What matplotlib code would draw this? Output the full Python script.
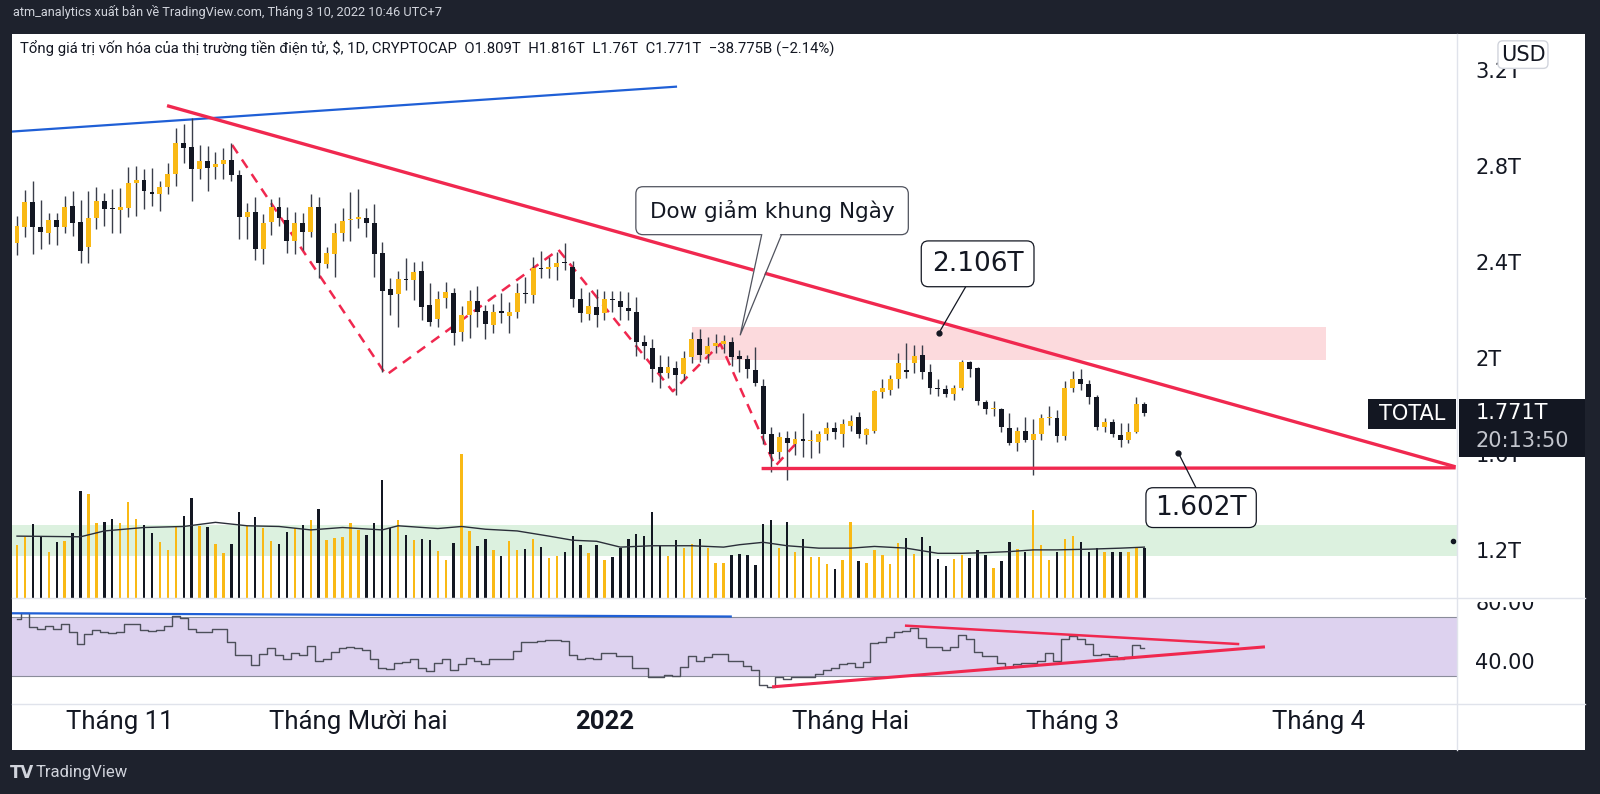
import numpy as np
import pandas as pd
import matplotlib
matplotlib.use('Agg')
import matplotlib.pyplot as plt
from matplotlib.patches import Rectangle, FancyBboxPatch, Polygon
from matplotlib.lines import Line2D

# nen ngay TOTAL (CRYPTOCAP), x = so ngay tinh tu 01/11/2021
dates = pd.date_range('2021-10-19', '2022-03-10', freq='D')
days = np.array((dates - pd.Timestamp('2021-11-01')).days)

# gia tri von hoa, don vi T (nghin ty USD)
opens = [2.479, 2.549, 2.653, 2.546, 2.524, 2.576, 2.545, 2.635, 2.566, 2.462,
         2.583, 2.654, 2.624, 2.618, 2.628, 2.732, 2.742, 2.694, 2.685, 2.714,
         2.770, 2.897, 2.881, 2.789, 2.822, 2.799, 2.811, 2.827, 2.764, 2.589,
         2.611, 2.454, 2.568, 2.632, 2.576, 2.490, 2.565, 2.528, 2.632, 2.394,
         2.434, 2.523, 2.576, 2.581, 2.586, 2.565, 2.437, 2.287, 2.266, 2.330,
         2.326, 2.365, 2.222, 2.162, 2.249, 2.271, 2.111, 2.180, 2.240, 2.197,
         2.139, 2.197, 2.178, 2.194, 2.269, 2.263, 2.377, 2.370, 2.382, 2.397,
         2.382, 2.245, 2.184, 2.212, 2.187, 2.243, 2.240, 2.210, 2.191, 2.066,
         2.041, 1.962, 1.940, 1.958, 1.934, 2.004, 2.078, 2.017, 2.051, 2.059,
         2.066, 2.009, 1.995, 1.951, 1.885, 1.682, 1.607, 1.666, 1.642, 1.663,
         1.654, 1.649, 1.684, 1.707, 1.686, 1.717, 1.753, 1.680, 1.698, 1.860,
         1.867, 1.912, 1.950, 1.979, 2.013, 1.944, 1.876, 1.872, 1.851, 1.874,
         1.983, 1.958, 1.819, 1.787, 1.788, 1.710, 1.648, 1.696, 1.661, 1.682,
         1.749, 1.752, 1.676, 1.876, 1.912, 1.891, 1.840, 1.715, 1.735, 1.680,
         1.659, 1.694, 1.809]
highs = [2.593, 2.701, 2.740, 2.660, 2.604, 2.604, 2.678, 2.698, 2.660, 2.698,
         2.712, 2.690, 2.704, 2.708, 2.796, 2.803, 2.788, 2.793, 2.740, 2.815,
         2.959, 2.977, 3.000, 2.889, 2.883, 2.858, 2.877, 2.899, 2.785, 2.646,
         2.672, 2.600, 2.662, 2.672, 2.632, 2.610, 2.604, 2.683, 2.671, 2.465,
         2.562, 2.625, 2.693, 2.704, 2.628, 2.643, 2.486, 2.336, 2.365, 2.416,
         2.403, 2.405, 2.312, 2.281, 2.319, 2.291, 2.218, 2.284, 2.301, 2.222,
         2.226, 2.270, 2.234, 2.312, 2.337, 2.423, 2.447, 2.420, 2.444, 2.482,
         2.405, 2.291, 2.277, 2.287, 2.280, 2.281, 2.281, 2.277, 2.254, 2.097,
         2.078, 2.013, 2.009, 1.990, 2.030, 2.111, 2.120, 2.087, 2.099, 2.097,
         2.090, 2.034, 2.013, 2.048, 1.912, 1.714, 1.694, 1.698, 1.698, 1.773,
         1.701, 1.698, 1.735, 1.735, 1.745, 1.763, 1.774, 1.711, 1.867, 1.912,
         1.930, 2.020, 2.062, 2.055, 2.055, 1.976, 1.912, 1.888, 1.888, 1.992,
         1.990, 1.962, 1.826, 1.822, 1.791, 1.773, 1.715, 1.756, 1.745, 1.767,
         1.800, 1.784, 1.907, 1.948, 1.953, 1.909, 1.846, 1.749, 1.746, 1.728,
         1.728, 1.839, 1.816]
lows = [2.430, 2.507, 2.434, 2.454, 2.476, 2.472, 2.521, 2.509, 2.395, 2.398,
        2.540, 2.551, 2.524, 2.524, 2.587, 2.593, 2.622, 2.635, 2.615, 2.683,
        2.718, 2.815, 2.657, 2.749, 2.698, 2.746, 2.746, 2.737, 2.499, 2.499,
        2.409, 2.391, 2.514, 2.551, 2.437, 2.434, 2.451, 2.504, 2.333, 2.375,
        2.340, 2.489, 2.490, 2.542, 2.507, 2.340, 1.944, 2.180, 2.129, 2.284,
        2.243, 2.159, 2.134, 2.129, 2.208, 2.055, 2.073, 2.083, 2.130, 2.079,
        2.104, 2.145, 2.104, 2.166, 2.231, 2.231, 2.333, 2.333, 2.326, 2.368,
        2.215, 2.152, 2.159, 2.131, 2.159, 2.194, 2.159, 2.159, 2.009, 1.995,
        1.902, 1.874, 1.916, 1.846, 1.909, 1.978, 1.985, 1.981, 2.020, 2.020,
        1.967, 1.944, 1.916, 1.884, 1.642, 1.527, 1.578, 1.492, 1.597, 1.586,
        1.583, 1.603, 1.658, 1.665, 1.631, 1.698, 1.666, 1.642, 1.689, 1.833,
        1.846, 1.874, 1.916, 1.937, 1.912, 1.850, 1.842, 1.837, 1.826, 1.867,
        1.923, 1.805, 1.766, 1.760, 1.694, 1.638, 1.613, 1.651, 1.513, 1.658,
        1.721, 1.652, 1.658, 1.860, 1.867, 1.809, 1.701, 1.694, 1.673, 1.628,
        1.648, 1.687, 1.760]
closes = [2.551, 2.653, 2.546, 2.526, 2.576, 2.549, 2.632, 2.565, 2.448, 2.585,
          2.657, 2.623, 2.621, 2.632, 2.732, 2.742, 2.698, 2.685, 2.715, 2.770,
          2.897, 2.878, 2.789, 2.822, 2.794, 2.810, 2.827, 2.765, 2.590, 2.611,
          2.454, 2.564, 2.632, 2.583, 2.490, 2.564, 2.528, 2.629, 2.398, 2.437,
          2.523, 2.573, 2.582, 2.590, 2.562, 2.434, 2.281, 2.263, 2.329, 2.327,
          2.361, 2.215, 2.152, 2.248, 2.274, 2.107, 2.180, 2.240, 2.194, 2.143,
          2.191, 2.187, 2.191, 2.270, 2.266, 2.377, 2.370, 2.379, 2.396, 2.395,
          2.247, 2.187, 2.218, 2.180, 2.245, 2.241, 2.212, 2.198, 2.069, 2.052,
          1.955, 1.940, 1.962, 1.930, 2.002, 2.078, 2.013, 2.051, 2.062, 2.071,
          2.003, 1.995, 1.953, 1.895, 1.684, 1.600, 1.672, 1.648, 1.662, 1.653,
          1.656, 1.682, 1.707, 1.694, 1.725, 1.738, 1.684, 1.703, 1.863, 1.874,
          1.912, 1.981, 1.944, 2.009, 1.944, 1.874, 1.872, 1.851, 1.874, 1.985,
          1.956, 1.822, 1.787, 1.789, 1.712, 1.645, 1.698, 1.661, 1.682, 1.749,
          1.750, 1.676, 1.876, 1.912, 1.892, 1.840, 1.715, 1.735, 1.682, 1.661,
          1.694, 1.807, 1.771]

# khoi luong (B)
volume = [77.5, 89, 107.5, 90, 67.5, 81.5, 82.5, 95, 156, 151.5,
          109, 110, 115, 109, 140, 114.5, 106.5, 94, 81.5, 70,
          105, 119, 145, 104, 103.5, 79, 66, 79, 125, 104,
          117.5, 102.5, 82.5, 78.5, 96.5, 102.5, 106.5, 113.5, 129, 85,
          87.5, 88.5, 108.5, 99, 91, 108.5, 171, 102, 114, 91.5,
          85, 86, 85, 69, 56, 80, 210, 97.5, 75, 86,
          70, 61.5, 82.5, 70, 71, 86, 74, 57.5, 61.5, 67,
          90, 77, 66, 77, 55, 59, 72.5, 86, 93.5, 90,
          125, 76, 61, 85, 72.5, 78.5, 86.5, 72.5, 51, 51,
          62.5, 64, 62.5, 48.5, 107.5, 114, 72.5, 111, 66.5, 86,
          60, 60, 49, 42.5, 56, 111, 54, 51, 70, 62.5,
          49, 80, 87, 64, 88.5, 76, 56.5, 46, 56.5, 62.5,
          57.5, 70, 62.5, 44, 54, 81.5, 71, 67.5, 128.5, 77.5,
          55, 67.5, 86.5, 90, 81, 67.5, 72.5, 67.5, 67.5, 67.5,
          67.5, 72.5, 72.5]
vol_ma_days = [-13, -5, -2, 3, 8, 12, 16, 20, 24, 28, 33, 35, 40, 43, 46, 50, 54, 57, 60,
               63, 67, 72, 76, 78, 81, 84, 88, 92, 95, 99, 103, 106, 109, 112, 115, 118,
               122, 126, 129]
vol_ma = [90, 89, 97.5, 102.5, 104, 110, 105, 104, 99, 102.5, 99, 105, 101, 104, 100, 97.5,
          90, 84, 82.5, 74, 76, 76, 74, 77.5, 81, 76, 72.5, 72.5, 75, 72.5, 65, 65, 66,
          67.5, 70, 70, 71, 72.5, 74]

rsi = [68.3, 72.6, 63.2, 62.1, 64.0, 62.1, 65.3, 59.8, 51.9, 58.3,
       61.5, 59.8, 59.4, 59.8, 65.1, 65.5, 61.1, 60.4, 61.5, 64.0,
       70.4, 69.6, 62.1, 60.0, 60.0, 62.1, 62.1, 53.0, 44.5, 44.5,
       37.7, 44.9, 48.7, 44.5, 41.3, 45.5, 44.5, 50.4, 40.2, 41.3,
       46.6, 49.1, 49.8, 49.1, 47.7, 41.3, 35.5, 34.9, 39.1, 39.8,
       41.3, 35.5, 33.4, 39.1, 41.3, 34.3, 38.1, 42.3, 40.2, 38.5,
       41.3, 41.3, 41.9, 47.0, 53.4, 53.0, 54.0, 54.5, 54.7, 54.0,
       44.5, 41.3, 42.3, 41.3,
       45.5, 45.5, 43.4, 43.4, 35.5, 35.5, 29.6, 29.1, 30.6, 30.0,
       36.0, 43.4, 40.2, 42.8, 44.9, 44.9, 40.2, 40.2, 37.0, 33.8,
       24.2, 22.8, 29.1, 27.9, 29.1, 29.1, 29.1, 31.7, 34.2, 35.5,
       38.5, 39.1, 36.0, 39.8, 52.5, 53.0, 56.2, 59.8, 60.4, 62.6,
       55.5, 49.8, 49.8, 47.7, 49.8, 57.7, 55.1, 46.2, 43.4, 43.4,
       39.1, 36.0, 38.5, 39.1, 39.1, 40.2, 45.5, 40.2, 55.1, 56.8,
       55.1, 51.9, 44.5, 44.9, 43.4, 41.3, 42.8, 51.3, 49.1]

month_ticks = [0, 30, 61, 92, 120, 151]
month_labels = ['Tháng 11', 'Tháng Mười hai', '2022', 'Tháng Hai', 'Tháng 3', 'Tháng 4']
price_ticks = [1.2, 1.6, 2.0, 2.4, 2.8, 3.2]
price_labels = ['1.2T', '1.6T', '2T', '2.4T', '2.8T', '3.2T']
rsi_ticks = [40, 80]
rsi_labels = ['40.00', '80.00']

# cac duong ve tay
blue_x, blue_y = [-13.6, 70.0], [2.945, 3.132]
trend_x, trend_y = [6.1, 168.0], [3.051, 1.549]
support_x, support_y = [81.0, 168.0], [1.540, 1.543]
zz_x = [14.1, 33.5, 55.2, 69.6, 75.6, 82.5, 85.0]
zz_y = [2.889, 1.93, 2.452, 1.862, 2.06, 1.55, 1.64]
rsi_blue_x, rsi_blue_y = [-13.6, 76.9], [72.5, 70.3]
rsi_top_x, rsi_top_y = [99.0, 140.8], [64.1, 51.7]
rsi_bot_x, rsi_bot_y = [82.3, 144.0], [22.8, 49.7]

DARK = '#1e222d'
YEL = '#f9b915'
BLK = '#131722'
RED = '#f0284f'
BLUE = '#1f5fd6'
narrow = ['Roboto', 'DejaVu Sans']
plt.rcParams['font.family'] = ['DejaVu Sans']

W, H = 1568.0, 778.0
def fx(x):
    return x / W
def fy(y):
    return 1 - y / H

fig = plt.figure(figsize=(16, 7.94), dpi=100, facecolor=DARK)
fig.patches.append(Rectangle((fx(12), fy(735)), fx(1553) - fx(12), fy(33) - fy(735),
                             transform=fig.transFigure, fc='white', ec='none', zorder=-1))

ax = fig.add_axes([fx(12), fy(586), fx(1428) - fx(12), fy(33) - fy(586)])
axr = fig.add_axes([fx(12), fy(690), fx(1428) - fx(12), fy(586) - fy(690)], sharex=ax)
for a in (ax, axr):
    a.set_facecolor('none')
    for s in a.spines.values():
        s.set_visible(False)
ax.set_xlim(-13.6, 168.4)
ax.set_ylim(1.0, 3.353)
axr.set_ylim(11.0, 82.8)

# vung ve
ax.axhspan(1.174, 1.306, color='#dcf1df', lw=0, zorder=0)
ax.add_patch(Rectangle((72.0, 1.991), 151.9 - 72.0, 2.128 - 1.991, fc='#fcdadd', ec='none', zorder=0))
ax.plot(blue_x, blue_y, color=BLUE, lw=1.6, zorder=2)
ax.plot(trend_x, trend_y, color=RED, lw=2.4, zorder=5, clip_on=False)
ax.plot(support_x, support_y, color=RED, lw=2.4, zorder=5, clip_on=False)
ax.plot(zz_x, zz_y, color=RED, lw=1.8, ls=(0, (4, 3)), zorder=2)

# nen
o, c = np.array(opens), np.array(closes)
up = c >= o
cols = np.where(up, YEL, BLK)
ax.vlines(days, lows, highs, color='#3a3e4a', lw=1.0, zorder=3)
ax.bar(days, np.maximum(np.abs(c - o), 0.004), bottom=np.minimum(o, c), width=0.62,
       color=cols, zorder=4)

# callout "Dow giam khung Ngay"
ax.add_patch(FancyBboxPatch((64.95, 2.515), 99.27 - 64.95, 0.2, boxstyle='round,pad=0,rounding_size=0.9',
                            mutation_aspect=0.0331, fc='white', ec='#50535e', lw=0.9, zorder=7))
ax.add_patch(Polygon([(80.8, 2.53), (78.1, 2.097), (83.3, 2.53)], closed=True, fc='white', ec='none', zorder=8))
ax.plot([80.8, 78.1, 83.3], [2.515, 2.097, 2.515], color='#50535e', lw=0.9, zorder=9)
ax.text(82.1, 2.615, 'Dow giảm khung Ngày', ha='center', va='center', fontsize=15.5, color=BLK, zorder=10)

# callout 2.106T
ax.plot([106.5, 103.1], [2.298, 2.104], color=BLK, lw=0.9, zorder=7)
ax.plot([103.1], [2.104], 'o', ms=3.5, color=BLK, zorder=7)
ax.add_patch(FancyBboxPatch((100.9, 2.298), 14.2, 0.191, boxstyle='round,pad=0,rounding_size=0.9',
                            mutation_aspect=0.0331, fc='white', ec=BLK, lw=0.9, zorder=8))
ax.text(108.0, 2.3935, '2.106T', ha='center', va='center', fontsize=19, color=BLK, zorder=10)

# callout 1.602T
ax.plot([133.3, 135.5], [1.604, 1.460], color=BLK, lw=0.9, zorder=7)
ax.plot([133.3], [1.604], 'o', ms=3.5, color=BLK, zorder=7)
ax.add_patch(FancyBboxPatch((129.2, 1.294), 13.9, 0.166, boxstyle='round,pad=0,rounding_size=0.9',
                            mutation_aspect=0.0331, fc='white', ec=BLK, lw=0.9, zorder=8))
ax.text(136.15, 1.377, '1.602T', ha='center', va='center', fontsize=19, color=BLK, zorder=10)
ax.plot([167.9], [1.238], 'o', ms=3, color=BLK, zorder=7, clip_on=False)

# khoi luong
axv = ax.twinx()
axv.bar(days, volume, width=0.3, color=cols, zorder=2)
axv.plot(vol_ma_days, vol_ma, color='#2a2e39', lw=1.0, zorder=3)
axv.set_ylim(0, 820)
axv.set_xlim(-13.6, 168.4)
axv.axis('off')

ax.yaxis.tick_right()
ax.set_yticks(price_ticks)
ax.set_yticklabels(price_labels)
ax.tick_params(axis='y', length=0, pad=13, labelsize=15, labelcolor=BLK)
ax.tick_params(axis='x', bottom=False, labelbottom=False)

# RSI
axr.axhspan(30, 70, color='#ddd2ef', lw=0, zorder=0)
axr.axhline(70, color='#8a8c9a', lw=0.8, zorder=1)
axr.axhline(30, color='#8a8c9a', lw=0.8, zorder=1)
axr.plot(days, rsi, drawstyle='steps-mid', color='#4c4f5a', lw=1.0, zorder=3)
axr.plot(rsi_blue_x, rsi_blue_y, color=BLUE, lw=1.6, zorder=4)
axr.plot(rsi_top_x, rsi_top_y, color=RED, lw=1.8, zorder=4)
axr.plot(rsi_bot_x, rsi_bot_y, color=RED, lw=2.2, zorder=4)
axr.yaxis.tick_right()
axr.set_yticks(rsi_ticks)
axr.set_yticklabels(rsi_labels)
axr.tick_params(axis='y', length=0, pad=13, labelsize=15, labelcolor=BLK)
axr.set_xticks(month_ticks)
axr.set_xticklabels(month_labels)
axr.tick_params(axis='x', length=0, pad=4, labelsize=18.5, labelcolor=BLK)
for i, lbl in enumerate(axr.get_xticklabels()):
    lbl.set_fontfamily(narrow)
    if month_labels[i] == '2022':
        lbl.set_fontweight('bold')

# nhan 80.00 bi khung tren che mot phan
fig.patches.append(Rectangle((fx(1429), fy(589.5)), fx(1553) - fx(1429), fy(566) - fy(589.5),
                             transform=fig.transFigure, fc='white', ec='none', zorder=4))

# duong phan cach khung
sep = '#e0e3eb'
fig.add_artist(Line2D([fx(12), fx(1553)], [fy(586), fy(586)], color=sep, lw=1, transform=fig.transFigure, zorder=5))
fig.add_artist(Line2D([fx(12), fx(1553)], [fy(690), fy(690)], color=sep, lw=1, transform=fig.transFigure, zorder=5))
fig.add_artist(Line2D([fx(1428), fx(1428)], [fy(33), fy(735)], color=sep, lw=1, transform=fig.transFigure, zorder=5))

# nhan gia hien tai
fig.patches.append(Rectangle((fx(1341), fy(420)), fx(1427) - fx(1341), fy(391) - fy(420),
                             transform=fig.transFigure, fc=BLK, ec='none', zorder=5))
fig.patches.append(Rectangle((fx(1430), fy(448)), fx(1553) - fx(1430), fy(391) - fy(448),
                             transform=fig.transFigure, fc=BLK, ec='none', zorder=5))
fig.text(fx(1384), fy(405.5), 'TOTAL', ha='center', va='center', fontsize=15, color='white', zorder=6)
fig.text(fx(1446), fy(405), '1.771T', ha='left', va='center', fontsize=15, color='white', zorder=6)
fig.text(fx(1446), fy(432), '20:13:50', ha='left', va='center', fontsize=15, color='#c3c6ce', zorder=6)
fig.patches.append(FancyBboxPatch((fx(1468), fy(67)), fx(1517) - fx(1468), fy(40) - fy(67),
                                  boxstyle='round,pad=0,rounding_size=0.003', mutation_aspect=2.0,
                                  transform=fig.transFigure, fc='white', ec='#d1d4dc', lw=1, zorder=5))
fig.text(fx(1492.5), fy(53.5), 'USD', ha='center', va='center', fontsize=15, color=BLK, zorder=6)

# tieu de
fig.text(fx(13), fy(12), 'atm_analytics xuất bản về TradingView.com, Tháng 3 10, 2022 10:46 UTC+7',
         ha='left', va='center', fontsize=9.2, color='#d1d4dc', family=narrow)
fig.text(fx(20), fy(48), 'Tổng giá trị vốn hóa của thị trường tiền điện tử, $, 1D, CRYPTOCAP  '
         'O1.809T  H1.816T  L1.76T  C1.771T  −38.775B (−2.14%)',
         ha='left', va='center', fontsize=10.7, color=BLK, family=narrow, zorder=6)
fig.text(fx(10), fy(757), 'TV', ha='left', va='center', fontsize=12, color='#d1d4dc', weight='bold')
fig.text(fx(35), fy(757), 'TradingView', ha='left', va='center', fontsize=12, color='#d1d4dc', family=narrow)

fig.savefig('out.png', dpi=100, facecolor=DARK)
